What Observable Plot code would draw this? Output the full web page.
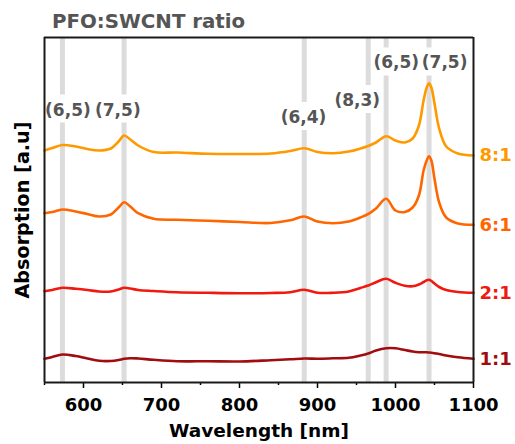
<!DOCTYPE html>
<html>
<head>
<meta charset="utf-8">
<script src="https://cdn.jsdelivr.net/npm/d3@7"></script>
<script src="https://cdn.jsdelivr.net/npm/@observablehq/plot@0.6"></script>
<style>
  html, body { margin: 0; padding: 0; background: #fff; }
  #title { box-sizing: border-box; height: 30px; padding: 12px 0 0 52px; font: bold 19.8px "DejaVu Sans", sans-serif; line-height: 19px; color: #555; white-space: nowrap; }
  #chart svg { display: block; }
</style>
</head>
<body>
<div id="title">PFO:SWCNT ratio</div>
<div id="chart"></div>
<script>
const wavelengths = [550, 560, 573, 590, 605, 620, 635, 645, 652, 660, 670, 690, 720, 760, 800, 840, 865, 883, 900, 920, 940, 955, 965, 975, 988, 1000, 1012, 1022, 1030, 1036, 1040, 1043, 1046, 1050, 1056, 1065, 1080, 1100];

const ratio81 = [2.32, 2.345, 2.375, 2.36, 2.335, 2.32, 2.34, 2.41, 2.47, 2.43, 2.37, 2.305, 2.30, 2.287, 2.285, 2.29, 2.315, 2.343, 2.305, 2.293, 2.31, 2.34, 2.365, 2.40, 2.463, 2.42, 2.40, 2.44, 2.57, 2.82, 2.95, 2.993, 2.95, 2.79, 2.54, 2.36, 2.29, 2.27];
const ratio61 = [1.693, 1.705, 1.73, 1.71, 1.685, 1.66, 1.68, 1.75, 1.803, 1.76, 1.693, 1.637, 1.627, 1.617, 1.605, 1.595, 1.622, 1.66, 1.61, 1.593, 1.61, 1.65, 1.685, 1.74, 1.837, 1.72, 1.705, 1.75, 1.87, 2.12, 2.22, 2.263, 2.22, 2.037, 1.80, 1.65, 1.59, 1.577];
const ratio21 = [0.913, 0.925, 0.947, 0.937, 0.925, 0.91, 0.91, 0.93, 0.947, 0.94, 0.925, 0.915, 0.903, 0.897, 0.893, 0.895, 0.902, 0.927, 0.897, 0.897, 0.91, 0.945, 0.97, 1.003, 1.037, 0.997, 0.967, 0.962, 0.98, 1.005, 1.022, 1.027, 1.015, 0.99, 0.955, 0.925, 0.905, 0.897];
const ratio11 = [0.237, 0.255, 0.28, 0.265, 0.24, 0.217, 0.215, 0.225, 0.237, 0.243, 0.24, 0.227, 0.213, 0.212, 0.21, 0.223, 0.232, 0.24, 0.238, 0.242, 0.247, 0.27, 0.29, 0.32, 0.342, 0.342, 0.325, 0.31, 0.303, 0.302, 0.302, 0.30, 0.298, 0.292, 0.285, 0.27, 0.252, 0.237];

const seriesNames = ["8:1", "6:1", "2:1", "1:1"];
const seriesColors = ["#ff9900", "#ff6600", "#f0190f", "#a00c10"];
const seriesValues = [ratio81, ratio61, ratio21, ratio11];

// chirality bands: band position, label, label x, label y
const bandPositions = [573, 652, 883, 965, 988, 1043];
const bandLabels = ["(6,5)", "(7,5)", "(6,4)", "(8,3)", "(6,5)", "(7,5)"];
const labelX = [580, 644, 882, 951, 1001, 1063];
const labelY = [2.72, 2.72, 2.65, 2.82, 3.20, 3.20];
const gapY = [2.735, 2.735, 2.66, 2.83, 3.205, 3.205];

const xTicks = [600, 700, 800, 900, 1000, 1100];
const xMinorTicks = [550, 650, 750, 850, 950, 1050];

const xMin = 550, xMax = 1100;
const yMin = 0, yMax = 3.45;

const rows = [];
seriesNames.forEach((name, i) => {
  wavelengths.forEach((w, j) => rows.push({series: name, x: w, y: seriesValues[i][j]}));
});
const lastRows = seriesNames.map((name, i) => ({series: name, x: wavelengths[wavelengths.length - 1], y: seriesValues[i][seriesValues[i].length - 1]}));

const gapHalf = 0.14;
const bandSegs = [];
bandPositions.forEach((b, i) => {
  bandSegs.push({x: b, y1: yMin, y2: gapY[i] - gapHalf});
  bandSegs.push({x: b, y1: gapY[i] + gapHalf, y2: yMax});
});
const labelRows = bandLabels.map((t, i) => ({text: t, x: labelX[i], y: labelY[i]}));

// frame edges as rule segments
const frameV = [{x: xMin}, {x: xMax}];
const frameH = [{y: yMin}, {y: yMax}];

const chart = Plot.plot({
  width: 515,
  height: 414,
  marginTop: 7,
  marginBottom: 62,
  marginLeft: 44,
  marginRight: 42,
  style: {fontFamily: "DejaVu Sans, sans-serif", fontWeight: "bold", background: "#fff", color: "#000"},
  x: {domain: [xMin, xMax]},
  y: {domain: [yMin, yMax], axis: null},
  color: {domain: seriesNames, range: seriesColors},
  marks: [
    Plot.ruleX(bandSegs, {x: "x", y1: "y1", y2: "y2", stroke: "#dcdcdc", strokeWidth: 5}),
    Plot.line(rows, {x: "x", y: "y", z: "series", stroke: "series", strokeWidth: 2.6, curve: "catmull-rom"}),
    Plot.text(labelRows, {x: "x", y: "y", text: "text", fill: "#555", fontSize: 17, fontWeight: "bold"}),
    Plot.text(lastRows, {x: "x", y: "y", text: "series", fill: "series", fontSize: 18, fontWeight: "bold", textAnchor: "start", dx: 6}),
    Plot.axisX({ticks: xTicks, tickSize: 6, tickPadding: 10, fontSize: 18, fontWeight: "bold", strokeWidth: 1.5, tickFormat: d => String(d), label: null}),
    Plot.axisX({ticks: xMinorTicks, tickSize: 3, strokeWidth: 1.5, text: null, label: null}),
    Plot.text(["Wavelength [nm]"], {frameAnchor: "bottom", dy: 54, textAnchor: "middle", fontSize: 18.5, fontWeight: "bold", fill: "#000"}),
    Plot.text(["Absorption [a.u]"], {frameAnchor: "left", dx: -22, rotate: -90, textAnchor: "middle", fontSize: 19.2, fontWeight: "bold", fill: "#000"}),
    Plot.ruleX(frameV, {x: "x", y1: yMin, y2: yMax, stroke: "#1a1a1a", strokeWidth: 2}),
    Plot.ruleY(frameH, {y: "y", x1: xMin, x2: xMax, stroke: "#1a1a1a", strokeWidth: 2})
  ]
});
document.getElementById("chart").appendChild(chart);
</script>
</body>
</html>
